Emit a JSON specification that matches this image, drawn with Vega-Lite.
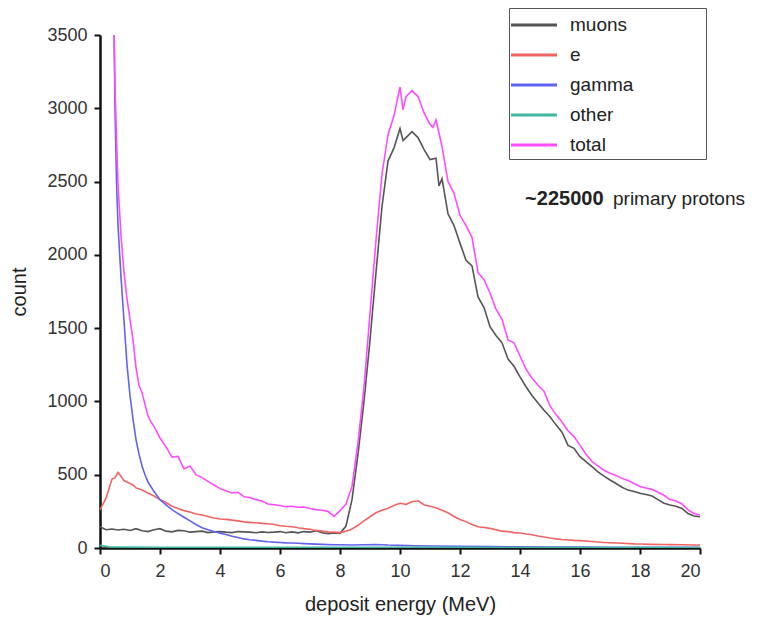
{
  "$schema": "https://vega.github.io/schema/vega-lite/v6.json",
  "width": 600,
  "height": 513,
  "autosize": "none",
  "padding": {"left": 100, "top": 35, "right": 59, "bottom": 77},
  "background": "white",
  "config": {
    "view": {"stroke": null},
    "font": "Liberation Sans",
    "axis": {
      "grid": false,
      "domainColor": "#111",
      "domainWidth": 2.5,
      "tickColor": "#111",
      "tickWidth": 2,
      "tickSize": 6,
      "labelFont": "Liberation Sans",
      "labelFontSize": 18,
      "labelColor": "#333",
      "titleFont": "Liberation Sans",
      "titleFontSize": 20,
      "titleFontWeight": "normal",
      "titleColor": "#222"
    }
  },
  "datasets": {
    "d": [
      {"E":0,"s":"muons","c":145},{"E":0.2,"s":"muons","c":125},{"E":0.4,"s":"muons","c":130},{"E":0.6,"s":"muons","c":123},{"E":0.8,"s":"muons","c":128},{"E":1.0,"s":"muons","c":120},{"E":1.2,"s":"muons","c":132},{"E":1.4,"s":"muons","c":118},{"E":1.6,"s":"muons","c":112},{"E":1.8,"s":"muons","c":125},{"E":2.0,"s":"muons","c":132},{"E":2.2,"s":"muons","c":115},{"E":2.4,"s":"muons","c":110},{"E":2.6,"s":"muons","c":120},{"E":2.8,"s":"muons","c":118},{"E":3.0,"s":"muons","c":108},{"E":3.2,"s":"muons","c":112},{"E":3.4,"s":"muons","c":115},{"E":3.6,"s":"muons","c":105},{"E":3.8,"s":"muons","c":110},{"E":4.0,"s":"muons","c":112},{"E":4.2,"s":"muons","c":108},{"E":4.4,"s":"muons","c":105},{"E":4.6,"s":"muons","c":112},{"E":4.8,"s":"muons","c":110},{"E":5.0,"s":"muons","c":108},{"E":5.2,"s":"muons","c":104},{"E":5.4,"s":"muons","c":110},{"E":5.6,"s":"muons","c":106},{"E":5.8,"s":"muons","c":108},{"E":6.0,"s":"muons","c":112},{"E":6.2,"s":"muons","c":104},{"E":6.4,"s":"muons","c":110},{"E":6.6,"s":"muons","c":103},{"E":6.8,"s":"muons","c":112},{"E":7.0,"s":"muons","c":108},{"E":7.2,"s":"muons","c":118},{"E":7.4,"s":"muons","c":104},{"E":7.6,"s":"muons","c":98},{"E":7.8,"s":"muons","c":102},{"E":8.0,"s":"muons","c":100},{"E":8.2,"s":"muons","c":150},{"E":8.4,"s":"muons","c":330},{"E":8.6,"s":"muons","c":640},{"E":8.8,"s":"muons","c":1000},{"E":9.0,"s":"muons","c":1420},{"E":9.2,"s":"muons","c":1880},{"E":9.4,"s":"muons","c":2330},{"E":9.6,"s":"muons","c":2640},{"E":9.8,"s":"muons","c":2730},{"E":10.0,"s":"muons","c":2862},{"E":10.1,"s":"muons","c":2780},{"E":10.2,"s":"muons","c":2800},{"E":10.4,"s":"muons","c":2840},{"E":10.6,"s":"muons","c":2800},{"E":10.8,"s":"muons","c":2720},{"E":11.0,"s":"muons","c":2650},{"E":11.2,"s":"muons","c":2660},{"E":11.3,"s":"muons","c":2470},{"E":11.4,"s":"muons","c":2520},{"E":11.6,"s":"muons","c":2280},{"E":11.8,"s":"muons","c":2200},{"E":12.0,"s":"muons","c":2080},{"E":12.2,"s":"muons","c":1963},{"E":12.4,"s":"muons","c":1925},{"E":12.6,"s":"muons","c":1713},{"E":12.8,"s":"muons","c":1640},{"E":13.0,"s":"muons","c":1510},{"E":13.2,"s":"muons","c":1450},{"E":13.4,"s":"muons","c":1400},{"E":13.6,"s":"muons","c":1290},{"E":13.8,"s":"muons","c":1240},{"E":14.0,"s":"muons","c":1168},{"E":14.2,"s":"muons","c":1100},{"E":14.4,"s":"muons","c":1040},{"E":14.6,"s":"muons","c":990},{"E":14.8,"s":"muons","c":940},{"E":15.0,"s":"muons","c":895},{"E":15.2,"s":"muons","c":840},{"E":15.4,"s":"muons","c":790},{"E":15.6,"s":"muons","c":700},{"E":15.8,"s":"muons","c":680},{"E":16.0,"s":"muons","c":623},{"E":16.2,"s":"muons","c":590},{"E":16.4,"s":"muons","c":555},{"E":16.6,"s":"muons","c":520},{"E":16.8,"s":"muons","c":490},{"E":17.0,"s":"muons","c":464},{"E":17.2,"s":"muons","c":440},{"E":17.4,"s":"muons","c":415},{"E":17.6,"s":"muons","c":395},{"E":17.8,"s":"muons","c":385},{"E":18.0,"s":"muons","c":373},{"E":18.2,"s":"muons","c":365},{"E":18.4,"s":"muons","c":355},{"E":18.6,"s":"muons","c":330},{"E":18.8,"s":"muons","c":305},{"E":19.0,"s":"muons","c":293},{"E":19.2,"s":"muons","c":285},{"E":19.4,"s":"muons","c":270},{"E":19.6,"s":"muons","c":235},{"E":19.8,"s":"muons","c":218},{"E":20.0,"s":"muons","c":213},

      {"E":0,"s":"e","c":260},{"E":0.2,"s":"e","c":340},{"E":0.4,"s":"e","c":470},{"E":0.5,"s":"e","c":480},{"E":0.6,"s":"e","c":515},{"E":0.7,"s":"e","c":490},{"E":0.8,"s":"e","c":460},{"E":0.9,"s":"e","c":450},{"E":1.0,"s":"e","c":440},{"E":1.1,"s":"e","c":430},{"E":1.2,"s":"e","c":410},{"E":1.4,"s":"e","c":395},{"E":1.6,"s":"e","c":375},{"E":1.8,"s":"e","c":355},{"E":2.0,"s":"e","c":330},{"E":2.2,"s":"e","c":310},{"E":2.4,"s":"e","c":285},{"E":2.6,"s":"e","c":270},{"E":2.8,"s":"e","c":255},{"E":3.0,"s":"e","c":245},{"E":3.2,"s":"e","c":232},{"E":3.4,"s":"e","c":225},{"E":3.6,"s":"e","c":215},{"E":3.8,"s":"e","c":205},{"E":4.0,"s":"e","c":198},{"E":4.2,"s":"e","c":195},{"E":4.4,"s":"e","c":190},{"E":4.6,"s":"e","c":185},{"E":4.8,"s":"e","c":178},{"E":5.0,"s":"e","c":175},{"E":5.2,"s":"e","c":172},{"E":5.4,"s":"e","c":168},{"E":5.6,"s":"e","c":165},{"E":5.8,"s":"e","c":160},{"E":6.0,"s":"e","c":152},{"E":6.2,"s":"e","c":148},{"E":6.4,"s":"e","c":145},{"E":6.6,"s":"e","c":138},{"E":6.8,"s":"e","c":132},{"E":7.0,"s":"e","c":128},{"E":7.2,"s":"e","c":120},{"E":7.4,"s":"e","c":115},{"E":7.6,"s":"e","c":110},{"E":7.8,"s":"e","c":108},{"E":8.0,"s":"e","c":105},{"E":8.2,"s":"e","c":115},{"E":8.4,"s":"e","c":130},{"E":8.6,"s":"e","c":155},{"E":8.8,"s":"e","c":185},{"E":9.0,"s":"e","c":213},{"E":9.2,"s":"e","c":240},{"E":9.4,"s":"e","c":258},{"E":9.6,"s":"e","c":272},{"E":9.8,"s":"e","c":290},{"E":10.0,"s":"e","c":305},{"E":10.2,"s":"e","c":298},{"E":10.4,"s":"e","c":315},{"E":10.6,"s":"e","c":322},{"E":10.8,"s":"e","c":295},{"E":11.0,"s":"e","c":285},{"E":11.2,"s":"e","c":275},{"E":11.4,"s":"e","c":258},{"E":11.6,"s":"e","c":240},{"E":11.8,"s":"e","c":215},{"E":12.0,"s":"e","c":195},{"E":12.2,"s":"e","c":180},{"E":12.4,"s":"e","c":160},{"E":12.6,"s":"e","c":145},{"E":12.8,"s":"e","c":140},{"E":13.0,"s":"e","c":134},{"E":13.2,"s":"e","c":125},{"E":13.4,"s":"e","c":115},{"E":13.6,"s":"e","c":112},{"E":13.8,"s":"e","c":105},{"E":14.0,"s":"e","c":102},{"E":14.2,"s":"e","c":95},{"E":14.4,"s":"e","c":90},{"E":14.6,"s":"e","c":82},{"E":14.8,"s":"e","c":75},{"E":15.0,"s":"e","c":68},{"E":15.2,"s":"e","c":62},{"E":15.4,"s":"e","c":58},{"E":15.6,"s":"e","c":55},{"E":15.8,"s":"e","c":52},{"E":16.0,"s":"e","c":50},{"E":16.4,"s":"e","c":44},{"E":16.8,"s":"e","c":38},{"E":17.0,"s":"e","c":36},{"E":17.4,"s":"e","c":32},{"E":17.8,"s":"e","c":28},{"E":18.0,"s":"e","c":27},{"E":18.4,"s":"e","c":25},{"E":18.8,"s":"e","c":24},{"E":19.0,"s":"e","c":23},{"E":19.4,"s":"e","c":22},{"E":19.8,"s":"e","c":20},{"E":20.0,"s":"e","c":20},

      {"E":0.47,"s":"gamma","c":3500},{"E":0.5,"s":"gamma","c":3000},{"E":0.55,"s":"gamma","c":2500},{"E":0.6,"s":"gamma","c":2200},{"E":0.7,"s":"gamma","c":1850},{"E":0.8,"s":"gamma","c":1550},{"E":0.9,"s":"gamma","c":1250},{"E":1.0,"s":"gamma","c":1040},{"E":1.1,"s":"gamma","c":880},{"E":1.2,"s":"gamma","c":740},{"E":1.3,"s":"gamma","c":640},{"E":1.4,"s":"gamma","c":560},{"E":1.5,"s":"gamma","c":500},{"E":1.6,"s":"gamma","c":450},{"E":1.8,"s":"gamma","c":385},{"E":2.0,"s":"gamma","c":330},{"E":2.2,"s":"gamma","c":295},{"E":2.4,"s":"gamma","c":262},{"E":2.6,"s":"gamma","c":235},{"E":2.8,"s":"gamma","c":210},{"E":3.0,"s":"gamma","c":185},{"E":3.2,"s":"gamma","c":160},{"E":3.4,"s":"gamma","c":138},{"E":3.6,"s":"gamma","c":125},{"E":3.8,"s":"gamma","c":112},{"E":4.0,"s":"gamma","c":100},{"E":4.2,"s":"gamma","c":92},{"E":4.4,"s":"gamma","c":80},{"E":4.6,"s":"gamma","c":72},{"E":4.8,"s":"gamma","c":62},{"E":5.0,"s":"gamma","c":56},{"E":5.2,"s":"gamma","c":52},{"E":5.4,"s":"gamma","c":47},{"E":5.6,"s":"gamma","c":43},{"E":5.8,"s":"gamma","c":40},{"E":6.0,"s":"gamma","c":38},{"E":6.2,"s":"gamma","c":35},{"E":6.4,"s":"gamma","c":34},{"E":6.6,"s":"gamma","c":32},{"E":6.8,"s":"gamma","c":30},{"E":7.0,"s":"gamma","c":28},{"E":7.4,"s":"gamma","c":25},{"E":7.8,"s":"gamma","c":22},{"E":8.0,"s":"gamma","c":22},{"E":8.4,"s":"gamma","c":20},{"E":8.8,"s":"gamma","c":22},{"E":9.2,"s":"gamma","c":24},{"E":9.6,"s":"gamma","c":20},{"E":10.0,"s":"gamma","c":18},{"E":10.5,"s":"gamma","c":15},{"E":11.0,"s":"gamma","c":14},{"E":12.0,"s":"gamma","c":12},{"E":13.0,"s":"gamma","c":10},{"E":14.0,"s":"gamma","c":8},{"E":15.0,"s":"gamma","c":7},{"E":16.0,"s":"gamma","c":6},{"E":17.0,"s":"gamma","c":5},{"E":18.0,"s":"gamma","c":5},{"E":19.0,"s":"gamma","c":4},{"E":20.0,"s":"gamma","c":4},

      {"E":0,"s":"other","c":18},{"E":0.3,"s":"other","c":8},{"E":1,"s":"other","c":6},{"E":2,"s":"other","c":5},{"E":3,"s":"other","c":5},{"E":4,"s":"other","c":4},{"E":6,"s":"other","c":4},{"E":8,"s":"other","c":4},{"E":10,"s":"other","c":5},{"E":12,"s":"other","c":4},{"E":14,"s":"other","c":3},{"E":16,"s":"other","c":3},{"E":18,"s":"other","c":3},{"E":20,"s":"other","c":3},

      {"E":0.47,"s":"total","c":3500},{"E":0.5,"s":"total","c":3150},{"E":0.55,"s":"total","c":2800},{"E":0.6,"s":"total","c":2480},{"E":0.7,"s":"total","c":2130},{"E":0.8,"s":"total","c":1880},{"E":0.9,"s":"total","c":1700},{"E":1.0,"s":"total","c":1560},{"E":1.1,"s":"total","c":1420},{"E":1.2,"s":"total","c":1230},{"E":1.3,"s":"total","c":1110},{"E":1.4,"s":"total","c":1060},{"E":1.5,"s":"total","c":980},{"E":1.6,"s":"total","c":900},{"E":1.7,"s":"total","c":860},{"E":1.8,"s":"total","c":830},{"E":1.9,"s":"total","c":790},{"E":2.0,"s":"total","c":750},{"E":2.2,"s":"total","c":690},{"E":2.4,"s":"total","c":620},{"E":2.6,"s":"total","c":625},{"E":2.8,"s":"total","c":540},{"E":3.0,"s":"total","c":560},{"E":3.2,"s":"total","c":500},{"E":3.4,"s":"total","c":480},{"E":3.6,"s":"total","c":455},{"E":3.8,"s":"total","c":430},{"E":4.0,"s":"total","c":405},{"E":4.2,"s":"total","c":390},{"E":4.4,"s":"total","c":375},{"E":4.6,"s":"total","c":380},{"E":4.8,"s":"total","c":350},{"E":5.0,"s":"total","c":345},{"E":5.2,"s":"total","c":330},{"E":5.4,"s":"total","c":320},{"E":5.6,"s":"total","c":300},{"E":5.8,"s":"total","c":295},{"E":6.0,"s":"total","c":290},{"E":6.2,"s":"total","c":282},{"E":6.4,"s":"total","c":285},{"E":6.6,"s":"total","c":278},{"E":6.8,"s":"total","c":280},{"E":7.0,"s":"total","c":270},{"E":7.2,"s":"total","c":262},{"E":7.4,"s":"total","c":258},{"E":7.6,"s":"total","c":250},{"E":7.8,"s":"total","c":215},{"E":8.0,"s":"total","c":255},{"E":8.2,"s":"total","c":300},{"E":8.4,"s":"total","c":420},{"E":8.6,"s":"total","c":720},{"E":8.8,"s":"total","c":1100},{"E":9.0,"s":"total","c":1600},{"E":9.2,"s":"total","c":2100},{"E":9.4,"s":"total","c":2550},{"E":9.6,"s":"total","c":2820},{"E":9.8,"s":"total","c":2950},{"E":10.0,"s":"total","c":3145},{"E":10.1,"s":"total","c":2990},{"E":10.2,"s":"total","c":3080},{"E":10.4,"s":"total","c":3120},{"E":10.6,"s":"total","c":3080},{"E":10.8,"s":"total","c":2970},{"E":11.0,"s":"total","c":2890},{"E":11.1,"s":"total","c":2870},{"E":11.2,"s":"total","c":2920},{"E":11.4,"s":"total","c":2740},{"E":11.6,"s":"total","c":2500},{"E":11.8,"s":"total","c":2420},{"E":12.0,"s":"total","c":2270},{"E":12.2,"s":"total","c":2200},{"E":12.4,"s":"total","c":2120},{"E":12.6,"s":"total","c":1880},{"E":12.8,"s":"total","c":1830},{"E":13.0,"s":"total","c":1740},{"E":13.2,"s":"total","c":1630},{"E":13.4,"s":"total","c":1560},{"E":13.6,"s":"total","c":1420},{"E":13.8,"s":"total","c":1400},{"E":14.0,"s":"total","c":1310},{"E":14.2,"s":"total","c":1220},{"E":14.4,"s":"total","c":1160},{"E":14.6,"s":"total","c":1110},{"E":14.8,"s":"total","c":1070},{"E":15.0,"s":"total","c":970},{"E":15.2,"s":"total","c":910},{"E":15.4,"s":"total","c":860},{"E":15.6,"s":"total","c":800},{"E":15.8,"s":"total","c":760},{"E":16.0,"s":"total","c":700},{"E":16.2,"s":"total","c":640},{"E":16.4,"s":"total","c":590},{"E":16.6,"s":"total","c":560},{"E":16.8,"s":"total","c":530},{"E":17.0,"s":"total","c":510},{"E":17.2,"s":"total","c":495},{"E":17.4,"s":"total","c":475},{"E":17.6,"s":"total","c":460},{"E":17.8,"s":"total","c":440},{"E":18.0,"s":"total","c":420},{"E":18.2,"s":"total","c":410},{"E":18.4,"s":"total","c":400},{"E":18.6,"s":"total","c":380},{"E":18.8,"s":"total","c":360},{"E":19.0,"s":"total","c":330},{"E":19.2,"s":"total","c":320},{"E":19.4,"s":"total","c":300},{"E":19.6,"s":"total","c":260},{"E":19.8,"s":"total","c":235},{"E":20.0,"s":"total","c":225}
    ],
    "notes": [
      {"E":14.17,"c":2338,"t":"~225000"}
    ],
    "notes2": [
      {"E":17.1,"c":2338,"t":"primary protons"}
    ]
  },
  "layer": [
    {
      "data": {"name": "d"},
      "mark": {"type": "line", "strokeWidth": 1.6, "clip": true, "interpolate": "linear"},
      "encoding": {
        "x": {"field": "E", "type": "quantitative", "scale": {"domain": [0, 20], "nice": false},
              "axis": {"orient": "bottom", "values": [0,1,2,3,4,5,6,7,8,9,10,11,12,13,14,15,16,17,18,19,20],
                       "labelExpr": "datum.value % 2 === 0 ? datum.label : ''",
                       "tickSize": 6,
                       "encode": {"ticks": {"update": {"y2": {"signal": "datum.value % 2 === 0 ? 6 : 4"}}}},
                       "labelPadding": 8, "title": "deposit energy  (MeV)", "titlePadding": 14}},
        "y": {"field": "c", "type": "quantitative", "scale": {"domain": [0, 3500], "nice": false},
              "axis": {"orient": "left", "format": "d", "values": [0,250,500,750,1000,1250,1500,1750,2000,2250,2500,2750,3000,3250,3500],
                       "labelExpr": "datum.value % 500 === 0 ? datum.label : ''",
                       "tickSize": 6,
                       "encode": {"ticks": {"update": {"x2": {"signal": "datum.value % 500 === 0 ? -6 : -4"}}}},
                       "labelPadding": 7, "title": "count", "titlePadding": 17}},
        "color": {
          "field": "s", "type": "nominal",
          "scale": {"domain": ["muons", "e", "gamma", "other", "total"], "range": ["#555555", "#f26464", "#6262f2", "#40b8a0", "#ff4cff"]},
          "legend": {
            "orient": "none", "legendX": 409, "legendY": -27, "title": null,
            "symbolType": "M-2,0H2", "symbolSize": 529, "symbolStrokeWidth": 3,
            "symbolOffset": 8,
            "labelFont": "Liberation Sans", "labelFontSize": 19, "labelColor": "#222",
            "labelOffset": 23, "rowPadding": 7, "padding": 4,
            "strokeColor": "#555", "fillColor": "white",
            "labelExpr": "datum.label + '\u00a0\u00a0\u00a0\u00a0\u00a0\u00a0\u00a0\u00a0\u00a0\u00a0\u00a0\u00a0\u00a0\u200b'"
          }
        },
        "order": {"field": "E", "type": "quantitative"}
      }
    },
    {
      "data": {"name": "notes"},
      "mark": {"type": "text", "align": "left", "baseline": "alphabetic", "fontSize": 20, "fontWeight": "bold", "color": "#222", "font": "Liberation Sans"},
      "encoding": {
        "x": {"field": "E", "type": "quantitative"},
        "y": {"field": "c", "type": "quantitative"},
        "text": {"field": "t"}
      }
    },
    {
      "data": {"name": "notes2"},
      "mark": {"type": "text", "align": "left", "baseline": "alphabetic", "fontSize": 19, "color": "#222", "font": "Liberation Sans"},
      "encoding": {
        "x": {"field": "E", "type": "quantitative"},
        "y": {"field": "c", "type": "quantitative"},
        "text": {"field": "t"}
      }
    }
  ]
}
